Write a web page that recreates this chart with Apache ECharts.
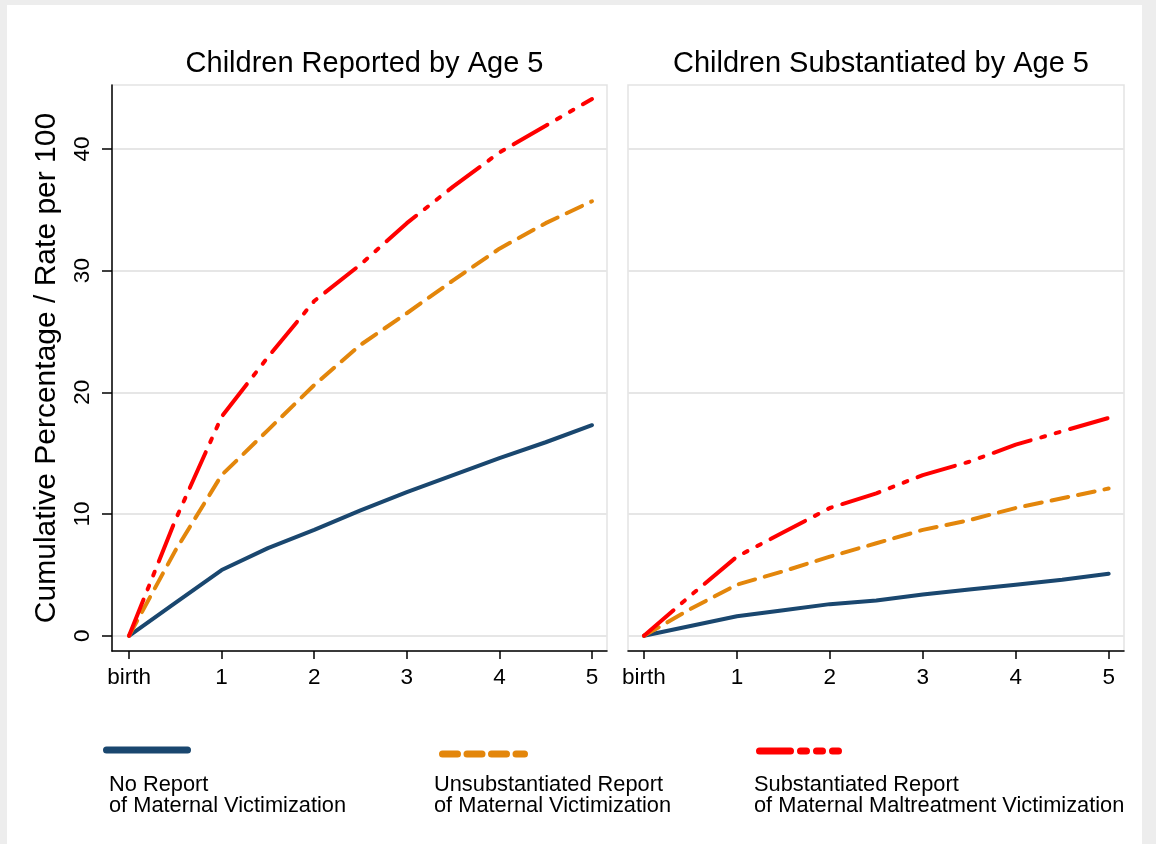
<!DOCTYPE html>
<html><head><meta charset="utf-8">
<script src="https://cdn.jsdelivr.net/npm/echarts@6/dist/echarts.min.js"></script>
<style>
html,body{margin:0;padding:0;background:#fff}
#c{width:1156px;height:844px;
background:linear-gradient(#ededed,#ededed) left top/100% 5px no-repeat,
linear-gradient(#ededed,#ededed) left top/7px 100% no-repeat,
linear-gradient(#ededed,#ededed) right top/14px 100% no-repeat,#fff;}
</style>
</head><body><div id="c"></div>
<script>
// ---- data ----
const ages = [0, 0.5, 1, 1.5, 2, 2.5, 3, 3.5, 4, 4.5, 5];
const xTicks = [0, 1, 2, 3, 4, 5];
const xTickLabels = ['birth', '1', '2', '3', '4', '5'];
const yTicks = [0, 10, 20, 30, 40];
const panelTitles = ['Children Reported by Age 5', 'Children Substantiated by Age 5'];
const yAxisTitle = 'Cumulative Percentage / Rate per 100';
const seriesNames = ['No Report of Maternal Victimization',
  'Unsubstantiated Report of Maternal Victimization',
  'Substantiated Report of Maternal Maltreatment Victimization'];
const legendLine1 = ['No Report', 'Unsubstantiated Report', 'Substantiated Report'];
const legendLine2 = ['of Maternal Victimization', 'of Maternal Victimization', 'of Maternal Maltreatment Victimization'];
const reportedNone  = [0, 2.7, 5.4, 7.2, 8.7, 10.3, 11.8, 13.2, 14.6, 15.9, 17.3];
const reportedUnsub = [0, 7.0, 13.2, 16.9, 20.6, 23.9, 26.5, 29.2, 31.8, 33.9, 35.7];
const reportedSub   = [0, 9.5, 18.0, 22.9, 27.5, 30.5, 33.9, 36.9, 39.7, 41.9, 44.1];
const substNone     = [0, 0.8, 1.6, 2.1, 2.6, 2.9, 3.4, 3.8, 4.2, 4.6, 5.1];
const substUnsub    = [0, 2.2, 4.2, 5.3, 6.5, 7.6, 8.7, 9.5, 10.5, 11.3, 12.1];
const substSub      = [0, 3.3, 6.5, 8.5, 10.5, 11.7, 13.2, 14.3, 15.7, 16.8, 17.9];

// ---- styles ----
const FONT = '"Liberation Sans", Arial, sans-serif';
const colors = ['#1a476f', '#e3860b', '#ff0000'];
const plotDash = ['solid', [17, 10], [39, 11, 4, 11, 4, 11]];
const legendDash = [null, [15, 9.5], [31, 10, 6, 10, 6, 10, 6, 10]];
const legendX = [[106.5, 187.5], [442.5, 524.5], [759.5, 840.5]];
const legendLineY = [750, 754, 751];
const legendTextX = [109, 434, 754];

const pairs = arr => ages.map((a, i) => [a, arr[i]]);
const panels = [[reportedNone, reportedUnsub, reportedSub], [substNone, substUnsub, substSub]];

const grids = [
  {left: 112, top: 85, width: 495, height: 566},
  {left: 628, top: 85, width: 496, height: 566}
].map(g => Object.assign(g, {show: true, borderColor: '#e3e3e3', borderWidth: 1.5, backgroundColor: '#fff'}));

const xRanges = [[-0.184, 5.162], [-0.172, 5.165]];
const xAxes = xRanges.map((r, i) => ({
  type: 'value', gridIndex: i, min: r[0], max: r[1],
  axisLine: {show: true, onZero: false, lineStyle: {color: '#000', width: 1.5}},
  axisTick: {show: true, customValues: xTicks, length: 8, lineStyle: {color: '#000', width: 1.5}},
  axisLabel: {show: true, customValues: xTicks, color: '#000', fontSize: 22.5, fontFamily: FONT, margin: 15,
    formatter: v => xTickLabels[xTicks.indexOf(v)]},
  splitLine: {show: false}
}));

const yAxes = [0, 1].map(i => ({
  type: 'value', gridIndex: i, min: -1.25, max: 45.25,
  axisLine: {show: i === 0, onZero: false, lineStyle: {color: '#000', width: 1.5}},
  axisTick: {show: i === 0, customValues: yTicks, length: 10, lineStyle: {color: '#000', width: 1.5}},
  axisLabel: {show: i === 0, customValues: yTicks, rotate: 90, color: '#000', fontSize: 22.5, fontFamily: FONT, margin: 18},
  splitLine: {show: true, customValues: yTicks, lineStyle: {color: '#e6e6e6', width: 2}},
  name: i === 0 ? yAxisTitle : '', nameLocation: 'middle', nameGap: 50,
  nameTextStyle: {color: '#000', fontSize: 30, fontFamily: FONT}
}));

const series = [];
panels.forEach((p, pi) => {
  p.forEach((arr, si) => {
    series.push({
      type: 'line', name: seriesNames[si], xAxisIndex: pi, yAxisIndex: pi,
      data: pairs(arr), symbol: 'none', smooth: false,
      lineStyle: {color: colors[si], width: 4, type: plotDash[si], cap: 'round', join: 'round'},
      z: 3 + si
    });
  });
});

const graphic = [];
for (let k = 0; k < 3; k++) {
  const st = {stroke: colors[k], lineWidth: 7, lineCap: 'round'};
  if (legendDash[k]) st.lineDash = legendDash[k];
  graphic.push({type: 'line', shape: {x1: legendX[k][0], y1: legendLineY[k], x2: legendX[k][1], y2: legendLineY[k]}, style: st});
  graphic.push({type: 'text', x: legendTextX[k], y: 784.5, style: {text: legendLine1[k], fill: '#000',
    font: '21.8px ' + FONT, verticalAlign: 'middle', align: 'left'}});
  graphic.push({type: 'text', x: legendTextX[k], y: 805.5, style: {text: legendLine2[k], fill: '#000',
    font: '21.8px ' + FONT, verticalAlign: 'middle', align: 'left'}});
}

const titleCenters = [359.5, 876];
const chart = echarts.init(document.getElementById('c'), null, {renderer: 'canvas'});
chart.setOption({
  backgroundColor: 'transparent',
  animation: false,
  title: panelTitles.map((t, i) => ({text: t, left: titleCenters[i], top: 44, textAlign: 'center',
    textStyle: {color: '#000', fontSize: 29, fontWeight: 'normal', fontFamily: FONT}})),
  grid: grids,
  xAxis: xAxes,
  yAxis: yAxes,
  series: series,
  graphic: graphic
});
</script>
</body></html>
